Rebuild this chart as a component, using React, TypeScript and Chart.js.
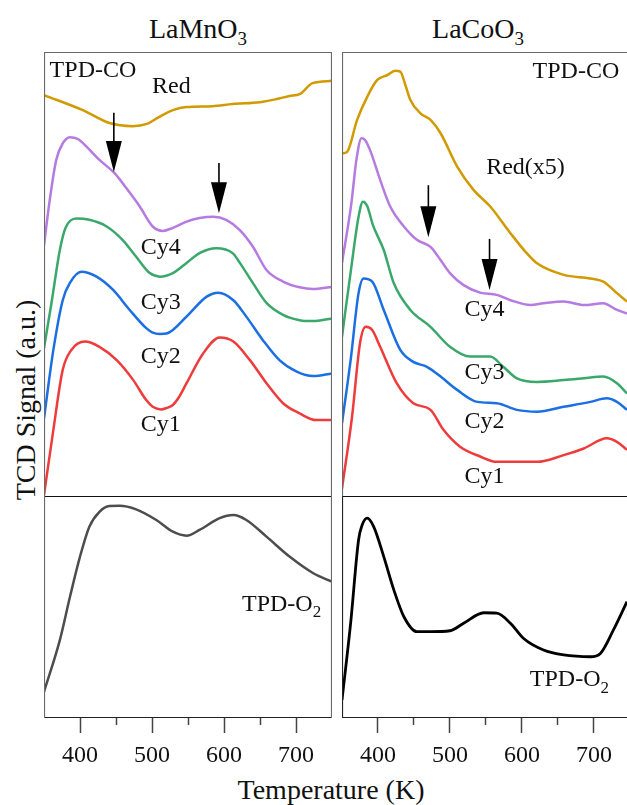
import React, { useEffect, useRef } from 'react';
import { Chart, registerables } from 'chart.js';

Chart.register(...registerables);

const FONT = "'Liberation Serif', 'Times New Roman', serif";

// ---- Axis ticks (Temperature, K) ----
const majorTicks = [400, 500, 600, 700];
const minorTicks = [450, 550, 650];

// ---- LaMnO3, TPD-CO (a.u.) : [T (K), signal] ----
const mnRed: [number, number][] = [[350,90.3],[404,86.9],[441,84.0],[473,83.3],[493,83.8],[507,85.1],[529,86.9],[548,87.6],[584,87.8],[612,88.3],[650,88.7],[673,89.4],[691,90.1],[705,90.5],[723,93.0],[750,93.5]];
const mnCy4: [number, number][] = [[350,56.5],[358,66.7],[367,75.7],[376,79.4],[386,80.8],[397,80.4],[409,78.7],[427,75.7],[448,72.7],[464,69.4],[483,65.2],[501,60.7],[515,59.7],[529,60.4],[548,61.8],[566,62.6],[585,62.9],[603,62.2],[622,59.9],[640,56.2],[659,50.9],[682,48.3],[705,47.0],[723,46.6],[750,47.1]];
const mnCy3: [number, number][] = [[350,33.3],[361,44.1],[372,55.4],[380,60.4],[395,62.5],[413,62.2],[437,60.7],[459,57.7],[478,53.9],[497,50.2],[511,49.4],[529,50.2],[548,52.5],[566,54.7],[589,55.8],[612,54.7],[622,52.5],[640,48.0],[659,43.5],[682,40.8],[705,39.6],[723,39.4],[750,40.0]];
const mnCy2: [number, number][] = [[350,17.5],[363,32.9],[376,44.1],[386,48.0],[402,50.5],[423,49.4],[446,46.4],[469,41.9],[492,37.8],[501,36.8],[511,36.5],[520,36.6],[529,37.4],[552,41.1],[576,44.9],[592,45.8],[613,44.1],[631,40.4],[654,35.1],[677,30.6],[701,28.0],[724,27.0],[750,27.6]];
const mnCy1: [number, number][] = [[350,0.2],[363,14.9],[376,28.4],[388,32.9],[407,34.8],[427,33.6],[451,30.6],[474,26.1],[492,21.6],[501,20.1],[513,19.5],[520,19.8],[529,20.5],[538,22.4],[548,25.4],[571,32.1],[594,35.7],[613,34.8],[636,30.6],[659,25.4],[682,20.9],[705,18.6],[728,17.1],[750,17.1]];
// ---- LaMnO3, TPD-O2 ----
const mnO2: [number, number][] = [[350,11.8],[372,35.1],[386,54.5],[400,72.7],[413,86.2],[427,92.9],[441,95.5],[455,95.6],[478,94.0],[506,89.2],[529,83.9],[548,82.1],[566,84.7],[594,90.0],[613,91.4],[631,89.2],[659,81.7],[691,72.7],[724,65.2],[750,61.4]];

// ---- LaCoO3, TPD-CO ----
const coRed: [number, number][] = [[350,77.2],[357,77.5],[371,84.7],[385,89.9],[399,93.7],[413,94.8],[424,95.8],[431,95.6],[438,92.6],[445,89.2],[459,86.2],[473,84.7],[487,81.7],[510,74.2],[533,68.9],[556,65.2],[584,59.2],[605,55.0],[621,52.4],[658,49.8],[695,49.0],[713,48.3],[732,45.7],[746,43.8]];
const coCy4: [number, number][] = [[350,52.5],[363,65.9],[370,75.7],[377,80.6],[382,80.2],[389,77.9],[403,71.2],[417,65.2],[436,60.7],[454,57.7],[473,56.1],[482,54.3],[500,50.2],[519,47.5],[542,45.8],[565,45.3],[584,44.1],[612,43.0],[630,43.4],[658,43.8],[686,43.0],[713,43.4],[732,41.9],[746,41.1]];
const coCy3: [number, number][] = [[350,35.9],[363,51.6],[373,62.9],[379,66.3],[385,65.3],[393,61.0],[408,55.4],[422,47.9],[445,41.9],[473,38.1],[500,33.6],[528,31.4],[556,31.4],[574,29.1],[593,26.5],[621,25.7],[658,26.1],[686,26.5],[713,26.9],[732,25.4],[746,23.1]];
const coCy2: [number, number][] = [[350,16.4],[362,30.6],[373,45.7],[380,49.0],[392,48.3],[408,41.9],[431,32.9],[449,30.2],[468,29.1],[487,26.9],[510,23.9],[538,21.2],[565,20.9],[593,19.4],[621,19.0],[658,20.1],[695,21.2],[718,22.0],[732,21.2],[746,19.4]];
const coCy1: [number, number][] = [[350,1.7],[364,17.9],[375,34.4],[383,38.1],[392,37.4],[403,33.6],[426,25.4],[449,20.9],[473,19.4],[491,14.9],[514,11.1],[542,8.9],[565,7.7],[593,7.7],[621,7.7],[658,9.2],[686,10.7],[718,13.0],[732,12.2],[746,10.4]];
// ---- LaCoO3, TPD-O2 ----
const coO2: [number, number][] = [[350,8.1],[362,42.7],[373,80.2],[378,86.9],[385,90.0],[394,86.2],[408,72.7],[422,57.7],[436,45.6],[454,38.9],[473,38.9],[500,39.3],[519,42.7],[547,47.4],[565,47.2],[584,42.7],[602,35.9],[630,30.6],[658,28.4],[695,27.6],[709,29.1],[727,39.6],[746,52.4]];

const C = {
  red: '#EE3B3B',
  blue: '#1C6FE3',
  green: '#3AA86B',
  purple: '#B67BE0',
  gold: '#D09A00',
  gray: '#4D4D4D',
  black: '#000000',
};

type Series = { data: [number, number][]; color: string; width?: number };
type Label = { text: string; sub?: string; x: number; y: number };
type Arrow = { x: number; y0: number; y1: number };
type Sides = { top?: string; left?: string; right?: string; bottom?: string };

type PanelProps = {
  left: number;
  top: number;
  width: number;
  height: number;
  xMax: number;
  series: Series[];
  labels: Label[];
  arrows: Arrow[];
  showAxis: boolean;
  sides: Sides;
};

const AXIS_H = 60;

function Panel(p: PanelProps) {
  const ref = useRef<HTMLCanvasElement>(null);
  useEffect(() => {
    const canvas = ref.current!;
    const decor = {
      id: 'decor',
      afterDatasetsDraw(chart: any) {
        const { ctx } = chart;
        const xs = chart.scales.x;
        const ys = chart.scales.y;
        ctx.save();
        // arrows
        ctx.fillStyle = '#000';
        ctx.strokeStyle = '#000';
        for (const ar of p.arrows) {
          const px = xs.getPixelForValue(ar.x);
          const y0 = ys.getPixelForValue(ar.y0);
          const y1 = ys.getPixelForValue(ar.y1);
          const head = 31;
          ctx.lineWidth = 1.6;
          ctx.beginPath();
          ctx.moveTo(px, y0);
          ctx.lineTo(px, y1 - head + 2);
          ctx.stroke();
          ctx.beginPath();
          ctx.moveTo(px - 8, y1 - head);
          ctx.lineTo(px + 8, y1 - head);
          ctx.lineTo(px, y1);
          ctx.closePath();
          ctx.fill();
        }
        // labels
        ctx.fillStyle = '#111';
        ctx.textBaseline = 'middle';
        ctx.textAlign = 'left';
        for (const lb of p.labels) {
          const cx = xs.getPixelForValue(lb.x);
          const cy = ys.getPixelForValue(lb.y);
          ctx.font = `24px ${FONT}`;
          const w1 = ctx.measureText(lb.text).width;
          let w2 = 0;
          if (lb.sub) {
            ctx.font = `17px ${FONT}`;
            w2 = ctx.measureText(lb.sub).width;
          }
          const x0 = cx - (w1 + w2) / 2;
          ctx.font = `24px ${FONT}`;
          ctx.fillText(lb.text, x0, cy);
          if (lb.sub) {
            ctx.font = `17px ${FONT}`;
            ctx.fillText(lb.sub, x0 + w1, cy + 8);
          }
        }
        ctx.restore();
      },
      afterDraw(chart: any) {
        const { ctx, chartArea: a } = chart;
        ctx.save();
        ctx.lineWidth = 1.2;
        const line = (x1: number, y1: number, x2: number, y2: number, c: string) => {
          ctx.strokeStyle = c;
          ctx.beginPath();
          ctx.moveTo(x1, y1);
          ctx.lineTo(x2, y2);
          ctx.stroke();
        };
        const s = p.sides;
        if (s.top) line(a.left, a.top + 0.5, a.right, a.top + 0.5, s.top);
        if (s.bottom) line(a.left, a.bottom - 0.5, a.right, a.bottom - 0.5, s.bottom);
        if (s.left) line(a.left + 0.5, a.top, a.left + 0.5, a.bottom, s.left);
        if (s.right) line(a.right - 0.5, a.top, a.right - 0.5, a.bottom, s.right);
        ctx.restore();
      },
    };

    const xScale: any = {
      type: 'linear',
      min: 350,
      max: p.xMax,
      display: p.showAxis,
      position: 'bottom',
    };
    if (p.showAxis) {
      Object.assign(xScale, {
        afterBuildTicks: (sc: any) => {
          sc.ticks = [...majorTicks, ...minorTicks].sort((a, b) => a - b).map((v) => ({ value: v }));
        },
        afterFit: (sc: any) => {
          sc.height = AXIS_H;
        },
        border: { display: false },
        grid: {
          display: true,
          drawOnChartArea: false,
          drawTicks: true,
          tickLength: 15,
          tickColor: '#444',
          tickWidth: 1.5,
          tickBorderDash: (ctx: any) => (ctx.tick && majorTicks.includes(ctx.tick.value) ? [] : [7, 100]),
        },
        ticks: {
          autoSkip: false,
          maxRotation: 0,
          minRotation: 0,
          padding: 8,
          color: '#111',
          font: { family: FONT, size: 24 },
          callback: (v: any) => (majorTicks.includes(Number(v)) ? String(v) : ''),
        },
      });
    }

    const chart = new Chart(canvas, {
      type: 'line',
      data: {
        datasets: p.series.map((s) => ({
          data: s.data.map(([x, y]) => ({ x, y })),
          borderColor: s.color,
          borderWidth: s.width ?? 2.5,
          pointRadius: 0,
          fill: false,
          cubicInterpolationMode: 'monotone' as const,
        })),
      },
      options: {
        animation: false,
        responsive: false,
        devicePixelRatio: 1,
        layout: { padding: 0 },
        plugins: { legend: { display: false }, tooltip: { enabled: false } },
        scales: {
          x: xScale,
          y: { type: 'linear', min: 0, max: 100, display: false },
        },
      },
      plugins: [decor],
    } as any);
    return () => chart.destroy();
  }, []);
  return (
    <canvas
      ref={ref}
      width={p.width}
      height={p.height}
      style={{ position: 'absolute', left: p.left, top: p.top, width: p.width, height: p.height }}
    />
  );
}

const FRAME = '#6a6a6a';

export default function App() {
  useEffect(() => {
    document.body.style.margin = '0';
  }, []);
  const titleStyle = (cx: number): React.CSSProperties => ({
    position: 'absolute',
    left: cx - 150,
    width: 300,
    top: 15,
    textAlign: 'center',
    fontSize: 28,
    lineHeight: '28px',
    whiteSpace: 'nowrap',
  });
  const subStyle: React.CSSProperties = { fontSize: 19, position: 'relative', top: 7 };
  return (
    <div
      style={{
        position: 'absolute',
        left: 0,
        top: 0,
        width: 627,
        height: 805,
        overflow: 'hidden',
        background: '#fff',
        fontFamily: FONT,
        color: '#111',
      }}
    >
      <div style={titleStyle(198)}>
        LaMnO<span style={subStyle}>3</span>
      </div>
      <div style={titleStyle(478)}>
        LaCoO<span style={subStyle}>3</span>
      </div>
      <div
        style={{
          position: 'absolute',
          left: 26,
          top: 400,
          transform: 'translate(-50%, -50%) rotate(-90deg)',
          fontSize: 28,
          lineHeight: '28px',
          whiteSpace: 'nowrap',
        }}
      >
        TCD Signal (a.u.)
      </div>
      <div
        style={{
          position: 'absolute',
          left: 331,
          top: 790,
          transform: 'translate(-50%, -50%)',
          fontSize: 28,
          lineHeight: '28px',
          whiteSpace: 'nowrap',
        }}
      >
        Temperature (K)
      </div>

      <Panel
        left={44}
        top={52}
        width={288}
        height={444}
        xMax={750}
        showAxis={false}
        sides={{ top: FRAME, left: FRAME, right: FRAME }}
        series={[
          { data: mnRed, color: C.gold },
          { data: mnCy4, color: C.purple },
          { data: mnCy3, color: C.green },
          { data: mnCy2, color: C.blue },
          { data: mnCy1, color: C.red },
        ]}
        labels={[
          { text: 'TPD-CO', x: 418, y: 95.9 },
          { text: 'Red', x: 527, y: 92.1 },
          { text: 'Cy4', x: 512, y: 55.9 },
          { text: 'Cy3', x: 512, y: 43.5 },
          { text: 'Cy2', x: 512, y: 31.3 },
          { text: 'Cy1', x: 512, y: 16.0 },
        ]}
        arrows={[
          { x: 447, y0: 86.3, y1: 73.0 },
          { x: 593, y0: 75.0, y1: 63.7 },
        ]}
      />
      <Panel
        left={44}
        top={496}
        width={288}
        height={222 + AXIS_H}
        xMax={750}
        showAxis={true}
        sides={{ top: '#111', left: FRAME, right: FRAME, bottom: '#222' }}
        series={[{ data: mnO2, color: C.gray }]}
        labels={[{ text: 'TPD-O', sub: '2', x: 680, y: 50.9 }]}
        arrows={[]}
      />
      <Panel
        left={342}
        top={52}
        width={285}
        height={444}
        xMax={746}
        showAxis={false}
        sides={{ top: FRAME, left: FRAME }}
        series={[
          { data: coRed, color: C.gold },
          { data: coCy4, color: C.purple },
          { data: coCy3, color: C.green },
          { data: coCy2, color: C.blue },
          { data: coCy1, color: C.red },
        ]}
        labels={[
          { text: 'TPD-CO', x: 675, y: 95.5 },
          { text: 'Red(x5)', x: 605, y: 73.9 },
          { text: 'Cy4', x: 548, y: 41.9 },
          { text: 'Cy3', x: 548, y: 27.7 },
          { text: 'Cy2', x: 548, y: 16.7 },
          { text: 'Cy1', x: 548, y: 4.3 },
        ]}
        arrows={[
          { x: 470, y0: 70.0, y1: 58.3 },
          { x: 555, y0: 57.9, y1: 46.4 },
        ]}
      />
      <Panel
        left={342}
        top={496}
        width={285}
        height={222 + AXIS_H}
        xMax={746}
        showAxis={true}
        sides={{ top: '#111', left: '#222', bottom: '#222' }}
        series={[{ data: coO2, color: C.black, width: 2.8 }]}
        labels={[{ text: 'TPD-O', sub: '2', x: 666, y: 17.1 }]}
        arrows={[]}
      />
    </div>
  );
}
